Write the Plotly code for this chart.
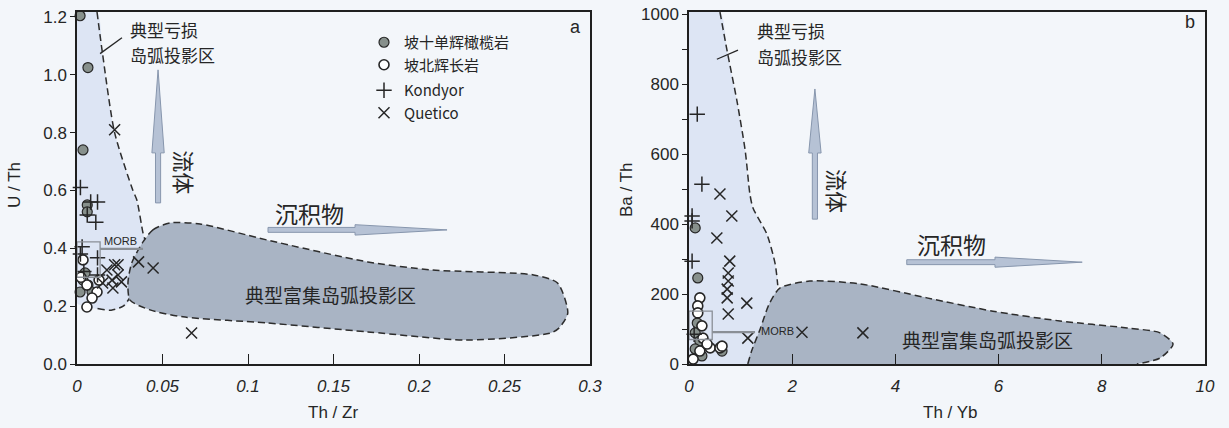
import plotly.graph_objects as go

W, H = 1229, 428
CJK = "Noto Sans CJK SC"
LAT = "Liberation Sans"
INK = "#262626"

# ---------------- panel a : U/Th vs Th/Zr ----------------
a_ol_thzr = [0.0018, 0.0064, 0.0035, 0.006, 0.006, 0.0047, 0.0035, 0.0018, 0.0064, 0.0088]
a_ol_uth = [1.204, 1.025, 0.74, 0.55, 0.526, 0.315, 0.29, 0.249, 0.273, 0.249]

a_gb_thzr = [0.0035, 0.0058, 0.0129, 0.0117, 0.0088, 0.0058, 0.0023]
a_gb_uth = [0.36, 0.273, 0.29, 0.249, 0.228, 0.197, 0.30]

a_kd_thzr = [0.002, 0.008, 0.012, 0.006, 0.011, 0.003, 0.002, 0.012, 0.012, 0.004]
a_kd_uth = [0.61, 0.56, 0.56, 0.515, 0.49, 0.405, 0.38, 0.367, 0.308, 0.32]

a_qt_thzr = [0.022, 0.022, 0.0175, 0.0205, 0.024, 0.026, 0.021, 0.015, 0.036, 0.0445, 0.067, 0.024]
a_qt_uth = [0.81, 0.343, 0.325, 0.29, 0.308, 0.284, 0.263, 0.28, 0.353, 0.332, 0.107, 0.343]

# ---------------- panel b : Ba/Th vs Th/Yb ----------------
b_ol_thyb = [0.12, 0.17, 0.16, 0.12, 0.21, 0.25, 0.64, 0.12]
b_ol_bath = [389, 246, 117, 89, 66, 23, 37, 43]

b_gb_thyb = [0.21, 0.17, 0.17, 0.25, 0.27, 0.41, 0.6, 0.64, 0.08, 0.21, 0.35]
b_gb_bath = [189, 166, 146, 109, 74, 46, 46, 51, 14, 37, 57]

b_kd_thyb = [0.16, 0.25, 0.06, 0.06, 0.06, 0.1]
b_kd_bath = [714, 514, 423, 409, 294, 85]

b_qt_thyb = [0.6, 0.83, 0.54, 0.79, 0.76, 0.76, 0.74, 0.74, 0.76, 1.12, 1.14, 2.19, 3.37]
b_qt_bath = [486, 423, 360, 294, 260, 237, 214, 189, 143, 174, 74, 91, 89]

# ---------------- field outlines ----------------
a_dep_x = [0, 0.0117, 0.015, 0.022, 0.0327, 0.035, 0.0386, 0.041, 0.033, 0.028, 0.02, 0.012, 0.005, 0, 0]
a_dep_y = [1.217, 1.217, 1.07, 0.8, 0.6, 0.567, 0.453, 0.40, 0.24, 0.20, 0.186, 0.19, 0.20, 0.21, 1.217]
a_dep_edge_x = [0.0117, 0.015, 0.022, 0.0327, 0.035, 0.0386, 0.040]
a_dep_edge_y = [1.217, 1.07, 0.8, 0.6, 0.567, 0.453, 0.425]
a_dep_low_x = [0.012, 0.02, 0.027, 0.031]
a_dep_low_y = [0.192, 0.186, 0.20, 0.23]

a_enr_x = [0.0386, 0.0444, 0.0544, 0.072, 0.111, 0.170, 0.208, 0.267, 0.281, 0.287, 0.282,
           0.277, 0.228, 0.170, 0.111, 0.062, 0.0427, 0.031, 0.0298, 0.032, 0.0386]
a_enr_y = [0.422, 0.464, 0.488, 0.484, 0.429, 0.353, 0.325, 0.308, 0.280, 0.176, 0.125,
           0.107, 0.083, 0.111, 0.142, 0.163, 0.187, 0.221, 0.280, 0.349, 0.422]

b_dep_x = [0, 0.6, 0.74, 0.93, 1.09, 1.18, 1.24, 1.51, 1.67, 1.72, 1.6, 1.4, 1.25, 1.15, 0.6, 0, 0]
b_dep_y = [1006, 1006, 894, 751, 609, 486, 446, 371, 286, 230, 170, 100, 40, 0, 0, 0, 1006]
b_dep_edge_x = [0.6, 0.74, 0.93, 1.09, 1.18, 1.24, 1.51, 1.67, 1.72]
b_dep_edge_y = [1006, 894, 751, 609, 486, 446, 371, 286, 225]

b_enr_x = [1.14, 1.22, 1.38, 1.55, 1.76, 2.34, 3.31, 4.61, 5.89, 7.19, 8.49, 9.13, 9.38, 9.13, 8.68, 8.0, 2.0, 1.14]
b_enr_y = [0, 40, 100, 170, 217, 237, 229, 189, 151, 123, 103, 89, 57, 17, 0, 0, 0, 0]

DEP_FILL = "#dde5f4"
ENR_FILL = "#a9b4c4"
DASH = dict(color="#2d2d2d", width=1.5, dash="7px,4px")

fig = go.Figure()


def field(x, y, fill, xa, ya):
    fig.add_trace(go.Scatter(x=x, y=y, mode="lines", fill="toself", fillcolor=fill,
                             line=dict(width=0, shape="spline", smoothing=0.7),
                             hoverinfo="skip", showlegend=False, xaxis=xa, yaxis=ya))


def edge(x, y, xa, ya):
    fig.add_trace(go.Scatter(x=x, y=y, mode="lines",
                             line=dict(shape="spline", smoothing=0.7, **DASH),
                             hoverinfo="skip", showlegend=False, xaxis=xa, yaxis=ya))


field(a_dep_x, a_dep_y, DEP_FILL, "x", "y")
edge(a_dep_edge_x, a_dep_edge_y, "x", "y")
edge(a_dep_low_x, a_dep_low_y, "x", "y")
field(a_enr_x, a_enr_y, ENR_FILL, "x", "y")
edge(a_enr_x, a_enr_y, "x", "y")

field(b_dep_x, b_dep_y, DEP_FILL, "x2", "y2")
edge(b_dep_edge_x, b_dep_edge_y, "x2", "y2")
field(b_enr_x, b_enr_y, ENR_FILL, "x2", "y2")
edge(b_enr_x[:15], b_enr_y[:15], "x2", "y2")

# ---------------- sample symbols ----------------
series = [
    ("坡十单辉橄榄岩", "circle", "#87908c", INK, 1.2, 10, "g1",
     (a_ol_thzr, a_ol_uth), (b_ol_thyb, b_ol_bath)),
    ("坡北辉长岩", "circle", "#ffffff", INK, 1.6, 10, "g1",
     (a_gb_thzr, a_gb_uth), (b_gb_thyb, b_gb_bath)),
    ("Kondyor", "cross-thin", INK, INK, 1.5, 11, "g2",
     (a_kd_thzr, a_kd_uth), (b_kd_thyb, b_kd_bath)),
    ("Quetico", "x-thin", INK, INK, 1.5, 11, "g2",
     (a_qt_thzr, a_qt_uth), (b_qt_thyb, b_qt_bath)),
]
for name, sym, fc, lc, lw, sz, grp, (ax, ay), (bx, by) in series:
    mk = dict(symbol=sym, color=fc, size=sz, line=dict(color=lc, width=lw))
    fig.add_trace(go.Scatter(x=ax, y=ay, mode="markers", name=name, marker=mk,
                             legendgroup=grp, cliponaxis=False, xaxis="x", yaxis="y"))
    fig.add_trace(go.Scatter(x=bx, y=by, mode="markers", name=name, marker=mk,
                             legendgroup=grp, showlegend=False, cliponaxis=False,
                             xaxis="x2", yaxis="y2"))


# ---------------- arrows, MORB boxes, leader lines ----------------
ARROW_FILL = "#b6c2d5"
ARROW_LINE = "#8796ad"


def v_arrow(xref, yref, x, y0, y1, yhead, sw, hw):
    p = (f"M {x - sw} {y0} L {x - sw} {yhead} L {x - hw} {yhead} L {x} {y1} "
         f"L {x + hw} {yhead} L {x + sw} {yhead} L {x + sw} {y0} Z")
    return dict(type="path", path=p, xref=xref, yref=yref, fillcolor=ARROW_FILL,
                line=dict(color=ARROW_LINE, width=1), layer="above")


def h_arrow(xref, yref, y, x0, x1, xhead, sh, hh):
    p = (f"M {x0} {y - sh} L {xhead} {y - sh} L {xhead} {y - hh} L {x1} {y} "
         f"L {xhead} {y + hh} L {xhead} {y + sh} L {x0} {y + sh} Z")
    return dict(type="path", path=p, xref=xref, yref=yref, fillcolor=ARROW_FILL,
                line=dict(color=ARROW_LINE, width=1), layer="above")


MORB_C = "#8a8f96"
shapes = [
    v_arrow("x", "y", 0.0474, 0.557, 1.017, 0.73, 0.0015, 0.0036),
    h_arrow("x", "y", 0.4637, 0.1117, 0.2164, 0.1626, 0.0085, 0.018),
    v_arrow("x2", "y2", 2.44, 414, 786, 603, 0.05, 0.12),
    h_arrow("x2", "y2", 291, 4.22, 7.62, 5.93, 7.0, 14.5),
    dict(type="rect", xref="x", yref="y", x0=0, x1=0.0135, y0=0.30, y1=0.422,
         line=dict(color=MORB_C, width=1.3), layer="above"),
    dict(type="line", xref="x", yref="y", x0=0.0135, x1=0.0386, y0=0.398, y1=0.398,
         line=dict(color=MORB_C, width=2.2), layer="above"),
    dict(type="rect", xref="x2", yref="y2", x0=0, x1=0.45, y0=70, y1=151,
         line=dict(color=MORB_C, width=1.3), layer="above"),
    dict(type="line", xref="x2", yref="y2", x0=0.45, x1=1.28, y0=91, y1=91,
         line=dict(color=MORB_C, width=2.2), layer="above"),
    dict(type="line", xref="x", yref="y", x0=0.0135, x1=0.0263, y0=1.073, y1=1.128,
         line=dict(color=INK, width=1.3)),
    dict(type="line", xref="x2", yref="y2", x0=0.54, x1=0.95, y0=871, y1=897,
         line=dict(color=INK, width=1.3)),
]


def txt(text, x, y, xref, yref, size, family=CJK, angle=0, xanchor="center"):
    return dict(text=text, x=x, y=y, xref=xref, yref=yref, showarrow=False,
                font=dict(family=family, size=size, color=INK), textangle=angle,
                xanchor=xanchor, yanchor="middle")


def px(x, y):
    # pixel position -> paper fraction
    return x / W, 1 - y / H


annotations = [
    txt("典型亏损", *px(128, 30), "paper", "paper", 17, xanchor="left"),
    txt("岛弧投影区", *px(128, 55), "paper", "paper", 17, xanchor="left"),
    txt("流体", 0.063, 0.664, "x", "y", 22, angle=90),
    txt("沉积物", 0.1357, 0.522, "x", "y", 23),
    txt("典型富集岛弧投影区", 0.148, 0.239, "x", "y", 19),
    txt("MORB", 0.0257, 0.426, "x", "y", 11, family=LAT),
    txt("a", *px(575, 27), "paper", "paper", 18, family=LAT),
    txt("典型亏损", *px(755, 31), "paper", "paper", 17, xanchor="left"),
    txt("岛弧投影区", *px(755, 56), "paper", "paper", 17, xanchor="left"),
    txt("流体", 2.89, 494, "x2", "y2", 22, angle=90),
    txt("沉积物", 5.08, 343, "x2", "y2", 23),
    txt("典型富集岛弧投影区", 5.78, 71, "x2", "y2", 19),
    txt("MORB", 1.71, 94, "x2", "y2", 11, family=LAT),
    txt("b", *px(1190, 22), "paper", "paper", 18, family=LAT),
    # axis titles
    txt("U / Th", *px(15, 185), "paper", "paper", 17, family=LAT, angle=-90),
    txt("Th / Zr", *px(333, 412), "paper", "paper", 17, family=LAT),
    txt("Ba / Th", *px(626, 190), "paper", "paper", 17, family=LAT, angle=-90),
    txt("Th / Yb", *px(950, 412), "paper", "paper", 17, family=LAT),
]

ydom = [(428 - 364) / H, (428 - 12) / H]
frame = dict(showline=True, mirror=True, linecolor="#1f1f1f", linewidth=1.5,
             showgrid=False, zeroline=False, automargin=False, tickcolor="#1f1f1f")
xfont = dict(family=LAT, size=17, color=INK, style="italic")
yfont = dict(family=LAT, size=17, color=INK)

fig.update_layout(
    width=W, height=H, margin=dict(l=0, r=0, t=0, b=0, autoexpand=False),
    paper_bgcolor="#f3f6fa", plot_bgcolor="#f3f6fa",
    xaxis=dict(domain=[77 / W, 590 / W], range=[0, 0.3], dtick=0.05, ticks="inside",
               ticklen=10, anchor="y", tickfont=xfont, ticklabelstandoff=6, **frame),
    yaxis=dict(domain=ydom, range=[0, 1.217], dtick=0.2, tickformat=".1f", ticks="outside",
               ticklen=5, anchor="x", tickfont=yfont, **frame),
    xaxis2=dict(domain=[689 / W, 1205 / W], range=[0, 10], dtick=2, ticks="inside",
                ticklen=10, anchor="y2", tickfont=xfont, ticklabelstandoff=6, **frame),
    yaxis2=dict(domain=ydom, range=[0, 1006], dtick=200, ticks="outside", ticklen=5,
                anchor="x2", tickfont=yfont,
                minor=dict(dtick=100, ticks="outside", ticklen=5, tickcolor="#1f1f1f"),
                **frame),
    legend=dict(x=364 / W, y=1 - 26 / H, xanchor="left", yanchor="top",
                bgcolor="rgba(0,0,0,0)", traceorder="grouped", tracegroupgap=3,
                font=dict(family=CJK, size=15, color=INK), itemwidth=30),
    shapes=shapes,
    annotations=annotations,
)

fig.write_html("out.html")
